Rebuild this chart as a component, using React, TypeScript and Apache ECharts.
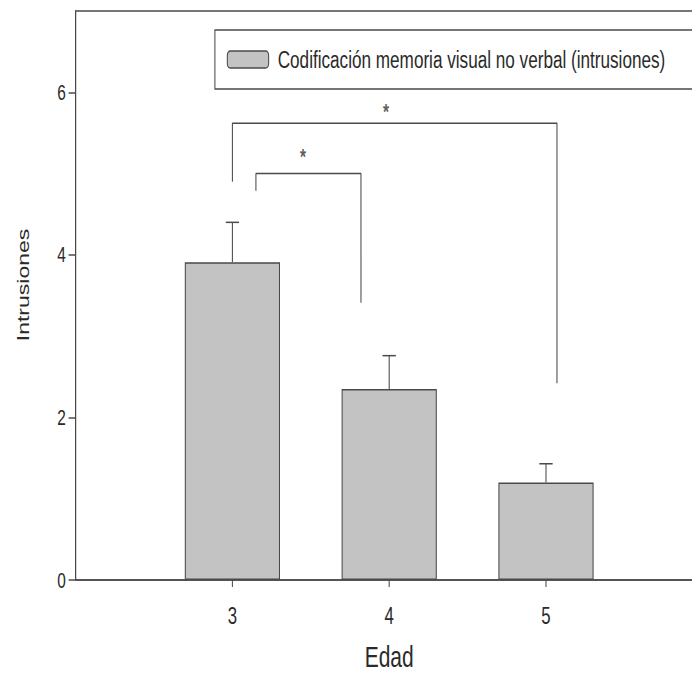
import React, { useEffect, useRef } from "react";
import * as echarts from "echarts";

// ---- data ----
const ages = [3, 4, 5];
const means = [3.91, 2.35, 1.2];
const errTops = [4.4, 2.76, 1.43];
const yTicks = [0, 2, 4, 6];
const seriesName = "Codificación memoria visual no verbal (intrusiones)";
// significance brackets: [x, y] points
const bracketBig = [
  [3.0, 4.9],
  [3.0, 5.62],
  [5.07, 5.62],
  [5.07, 2.42],
];
const bracketSmall = [
  [3.15, 4.79],
  [3.15, 5.0],
  [3.82, 5.0],
  [3.82, 3.41],
];
const stars = [
  [3.98, 5.76],
  [3.45, 5.21],
];

const SX = 0.7; // horizontal compression of the reference picture
const W = 1030;
const H = 677;
const FONT = "'Liberation Sans', Arial, sans-serif";
const TXT = "#2a2a2a";
const LINE = "#4a4a4a";

export default function App() {
  const ref = useRef<HTMLDivElement>(null);
  useEffect(() => {
    document.body.style.margin = "0";
    const chart = echarts.init(ref.current!, null, { renderer: "svg" });
    const barData = ages.map((a, i) => [a, means[i]]);
    const errData = ages.map((a, i) => [a, means[i], errTops[i]]);
    chart.setOption({
      animation: false,
      textStyle: { fontFamily: FONT },
      grid: {
        left: 108,
        top: 11,
        width: 896,
        height: 573,
        show: true,
        borderColor: LINE,
        borderWidth: 1.5,
      },
      legend: {
        data: [seriesName],
        left: 307,
        top: 30,
        orient: "horizontal",
        itemWidth: 59,
        itemHeight: 17,
        padding: [17, 80, 17, 17],
        borderColor: LINE,
        borderWidth: 1.5,
        selectedMode: false,
        textStyle: {
          fontFamily: FONT,
          fontSize: 24.5,
          color: TXT,
          padding: [0, 0, 0, 8],
        },
        itemStyle: { color: "#c3c3c3", borderColor: LINE, borderWidth: 1.5 },
      },
      xAxis: {
        type: "value",
        min: 2,
        max: 6,
        interval: 1,
        name: "Edad",
        nameLocation: "middle",
        nameGap: 62,
        nameTextStyle: { fontFamily: FONT, fontSize: 30, color: TXT },
        axisLine: { show: true, lineStyle: { color: LINE, width: 1.5 } },
        axisTick: {
          show: true,
          length: 7,
          customValues: ages,
          lineStyle: { color: LINE, width: 1.5 },
        },
        axisLabel: {
          customValues: ages,
          fontFamily: FONT,
          fontSize: 24,
          color: TXT,
          margin: 23,
        },
        splitLine: { show: false },
      },
      yAxis: {
        type: "value",
        min: 0,
        max: 7,
        interval: 1,
        axisLine: { show: true, lineStyle: { color: LINE, width: 1.5 } },
        axisTick: {
          show: true,
          length: 10,
          customValues: yTicks,
          lineStyle: { color: LINE, width: 1.5 },
        },
        axisLabel: {
          customValues: yTicks,
          fontFamily: FONT,
          fontSize: 22,
          color: TXT,
          margin: 14,
        },
        splitLine: { show: false },
      },
      graphic: [
        {
          type: "text",
          x: 34,
          y: 285,
          rotation: Math.PI / 2,
          style: {
            text: "Intrusiones",
            fontFamily: FONT,
            fontSize: 23,
            fill: TXT,
            align: "center",
            verticalAlign: "middle",
          },
        },
      ],
      series: [
        {
          name: seriesName,
          type: "bar",
          data: barData,
          barWidth: 136,
          itemStyle: { color: "#c3c3c3", borderColor: LINE, borderWidth: 1.5 },
          z: 2,
        },
        {
          type: "custom",
          data: errData,
          z: 3,
          renderItem: (params: any, api: any) => {
            const x = api.value(0);
            const p0 = api.coord([x, api.value(1)]);
            const p1 = api.coord([x, api.value(2)]);
            const hw = 9.5;
            const st = { stroke: LINE, lineWidth: 1.5 };
            return {
              type: "group",
              children: [
                { type: "line", shape: { x1: p0[0], y1: p0[1], x2: p1[0], y2: p1[1] }, style: st },
                { type: "line", shape: { x1: p1[0] - hw, y1: p1[1], x2: p1[0] + hw, y2: p1[1] }, style: st },
              ],
            };
          },
        },
        {
          type: "line",
          data: bracketBig,
          symbol: "none",
          lineStyle: { color: LINE, width: 1.5 },
          z: 3,
        },
        {
          type: "line",
          data: bracketSmall,
          symbol: "none",
          lineStyle: { color: LINE, width: 1.5 },
          z: 3,
        },
        {
          type: "scatter",
          data: stars,
          symbolSize: 0,
          z: 4,
          label: {
            show: true,
            position: "inside",
            formatter: "*",
            fontFamily: FONT,
            fontSize: 22,
            fontWeight: "bold",
            color: "#333",
          },
        },
      ],
    });
    return () => chart.dispose();
  }, []);
  return (
    <div
      style={{
        position: "fixed",
        left: 0,
        top: 0,
        width: 692,
        height: 677,
        overflow: "hidden",
        background: "#fff",
      }}
    >
      <div
        ref={ref}
        style={{
          width: W,
          height: H,
          transform: `scaleX(${SX})`,
          transformOrigin: "0 0",
        }}
      />
    </div>
  );
}
